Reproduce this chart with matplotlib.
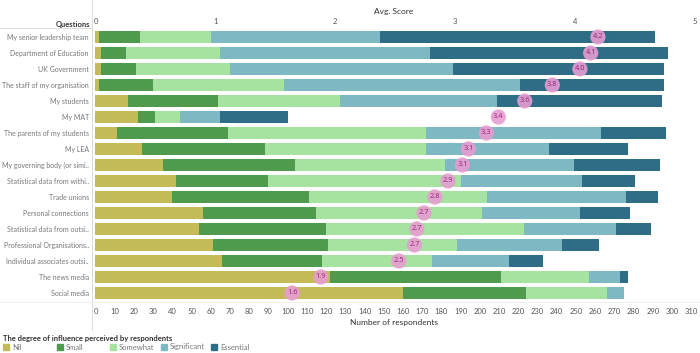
import numpy as np
import matplotlib
matplotlib.use('Agg')
import matplotlib.pyplot as plt
from matplotlib.patches import Rectangle
from matplotlib.lines import Line2D

plt.rcParams['font.family'] = ['Lato', 'DejaVu Sans']

questions = ['My senior leadership team', 'Department of Education', 'UK Government',
             'The staff of my organisation', 'My students', 'My MAT',
             'The parents of my students', 'My LEA', 'My governing body (or simi..',
             'Statistical data from withi..', 'Trade unions', 'Personal connections',
             'Statistical data from outsi..', 'Professional Organisations..',
             'Individual associates outsi..', 'The news media', 'Social media']

nil = [2, 3, 3, 2, 17, 22, 11, 24, 35, 42, 40, 56, 54, 61, 66, 122, 160]
small = [21, 13, 18, 28, 47, 9, 58, 64, 69, 48, 71, 59, 66, 60, 52, 89, 64]
somewhat = [37, 49, 49, 68, 63, 13, 103, 84, 78, 100, 93, 86, 103, 67, 57, 46, 42]
significant = [88, 109, 116, 123, 82, 21, 91, 64, 67, 63, 72, 51, 48, 55, 40, 16, 9]
essential = [143, 124, 110, 75, 86, 35, 34, 41, 45, 28, 17, 26, 18, 19, 18, 4, 0]

avg_score = [4.19, 4.13, 4.04, 3.81, 3.58, 3.36, 3.26, 3.11, 3.06, 2.94, 2.83,
             2.74, 2.68, 2.66, 2.53, 1.88, 1.64]

levels = ['Nil', 'Small', 'Somewhat', 'Significant', 'Essential']
colors = ['#c4bb58', '#4f9a4c', '#a6e3a0', '#7db8c3', '#2f6d86']

# ratio between the two x scales (respondents per avg score unit)
k = 62.45

fig = plt.figure(figsize=(7, 3.53), dpi=100)
ax = fig.add_axes([93/700, 1 - 301/353, 602/700, 272/353])

y = np.arange(len(questions))
left = np.zeros(len(questions))
for vals, c in zip([nil, small, somewhat, significant, essential], colors):
    vals = np.array(vals)
    ax.barh(y, vals, left=left, color=c, height=0.7)
    left += vals

ax.set_ylim(len(questions) - 0.5, -0.5)
ax.set_xlim(-1.3, 312)
ax.set_yticks(y)
ax.set_yticklabels(questions, fontsize=5, color='#777777')
ax.set_xticks(np.arange(0, 311, 10))
ax.tick_params(axis='x', labelsize=5.5, colors='#555555', length=0, pad=5)
ax.tick_params(axis='y', length=0, pad=3)
for s in ax.spines.values():
    s.set_visible(False)
ax.set_xlabel('Number of respondents', fontsize=6, color='#333333', labelpad=3)

ax2 = ax.twiny()
ax2.set_xlim(-1.3 / k, 312 / k)
ax2.set_xticks([0, 1, 2, 3, 4, 5])
ax2.tick_params(axis='x', labelsize=5.5, colors='#555555', length=0, pad=3)
for s in ax2.spines.values():
    s.set_visible(False)
ax2.set_xlabel('Avg. Score', fontsize=6, color='#333333', labelpad=3)

ax2.scatter(avg_score, y, s=120, color='#e79cd1', alpha=0.9, zorder=5, edgecolors='none')
for sc, yy in zip(avg_score, y):
    ax2.text(sc, yy, f'{sc:.1f}', ha='center', va='center', fontsize=5.3,
             family=['Noto Sans', 'DejaVu Sans'], color='#9c2f7d', zorder=6)

# frame lines
fig.add_artist(Line2D([92/700, 92/700], [1 - 330/353, 1.0], color='#dddddd', lw=0.8))
fig.add_artist(Line2D([0, 92/700], [1 - 28/353, 1 - 28/353], color='#dddddd', lw=0.8))
fig.add_artist(Line2D([0, 1], [1 - 302/353, 1 - 302/353], color='#eeeeee', lw=0.8))
fig.text(90/700, 1 - 24/353, 'Questions', ha='right', va='center', fontsize=5.5,
         fontweight='bold', color='#333333')

# legend
fig.text(3/700, 1 - 339/353, 'The degree of influence perceived by respondents',
         ha='left', va='center', fontsize=5.5, fontweight='bold', color='#333333')
xs = [3, 57, 110, 161, 211]
for xx, lab, c in zip(xs, levels, colors):
    fig.add_artist(Rectangle((xx/700, 1 - 350/353), 6/700, 6/353, color=c,
                             transform=fig.transFigure))
    fig.text((xx + 9)/700, 1 - 347/353, lab, ha='left', va='center', fontsize=5.5,
             color='#777777')

plt.savefig('out.png', dpi=100)
